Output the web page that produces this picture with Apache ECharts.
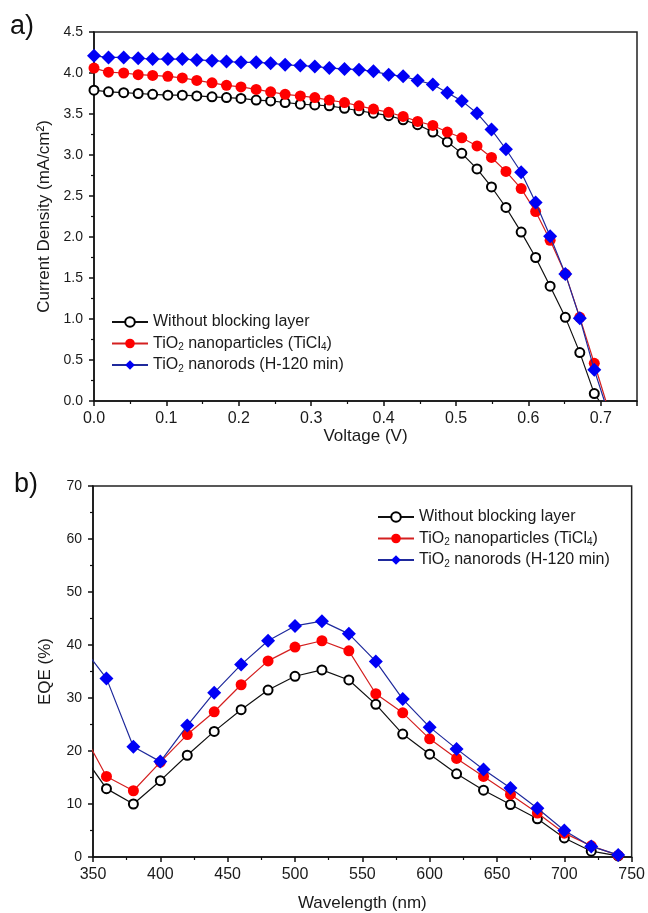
<!DOCTYPE html>
<html>
<head>
<meta charset="utf-8">
<script src="https://cdn.jsdelivr.net/npm/echarts@6/dist/echarts.min.js"></script>
<style>
  html, body { margin: 0; padding: 0; background: #fff; }
  #chart { width: 648px; height: 913px; }
</style>
</head>
<body>
<div id="chart"></div>
<script>
// series names (legend)
const seriesNames = [
  "Without blocking layer",
  "TiO2 nanoparticles (TiCl4)",
  "TiO2 nanorods (H-120 min)",
];

// a) J-V curves
const voltage = [
  0.0, 0.02, 0.041, 0.061, 0.081, 0.102, 0.122, 0.142, 0.163, 0.183,
  0.203, 0.224, 0.244, 0.264, 0.285, 0.305, 0.325, 0.346, 0.366, 0.386,
  0.407, 0.427, 0.447, 0.468, 0.488, 0.508, 0.529, 0.549, 0.569, 0.59,
  0.61, 0.63, 0.651, 0.671, 0.691,
];
const jWithout = [
  3.79, 3.77, 3.76, 3.75, 3.74, 3.73, 3.73, 3.72, 3.71, 3.70,
  3.69, 3.67, 3.66, 3.64, 3.62, 3.61, 3.60, 3.57, 3.54, 3.51,
  3.48, 3.43, 3.37, 3.28, 3.16, 3.02, 2.83, 2.61, 2.36, 2.06,
  1.75, 1.40, 1.02, 0.59, 0.09,
];
const jParticles = [
  4.06, 4.01, 4.00, 3.98, 3.97, 3.96, 3.94, 3.91, 3.88, 3.85,
  3.83, 3.80, 3.77, 3.74, 3.72, 3.70, 3.67, 3.64, 3.60, 3.56,
  3.52, 3.47, 3.41, 3.36, 3.28, 3.21, 3.11, 2.97, 2.80, 2.59,
  2.31, 1.96, 1.55, 1.02, 0.46,
];
const jRods = [
  4.21, 4.19, 4.19, 4.18, 4.17, 4.17, 4.17, 4.16, 4.15, 4.14,
  4.13, 4.13, 4.12, 4.10, 4.09, 4.08, 4.06, 4.05, 4.04, 4.02,
  3.98, 3.96, 3.91, 3.86, 3.76, 3.66, 3.51, 3.31, 3.07, 2.79,
  2.42, 2.01, 1.55, 1.01, 0.38,
];
const vocValues = [0.698, 0.707, 0.705]; // where the curves hit 0

// b) EQE spectra
const wavelength = [
  340, 360, 380, 400, 420, 440, 460, 480, 500, 520, 540,
  560, 580, 600, 620, 640, 660, 680, 700, 720, 740,
];
const eqeWithout = [
  20.1, 12.9, 10.0, 14.4, 19.2, 23.7, 27.8, 31.5, 34.1, 35.3, 33.4,
  28.8, 23.2, 19.4, 15.7, 12.6, 9.9, 7.2, 3.6, 1.1, 0.2,
];
const eqeParticles = [
  24.6, 15.2, 12.5, 17.9, 23.1, 27.4, 32.5, 37.0, 39.6, 40.8, 38.9,
  30.8, 27.2, 22.3, 18.6, 15.2, 11.8, 8.3, 4.5, 2.1, 0.3,
];
const eqeRods = [
  40.3, 33.7, 20.8, 18.0, 24.8, 31.0, 36.3, 40.8, 43.6, 44.5, 42.1,
  36.9, 29.8, 24.5, 20.4, 16.5, 13.0, 9.2, 5.0, 2.0, 0.4,
];

const FONT = "Liberation Sans, Arial, sans-serif";

const markerStyles = [
  { symbol: "circle", fill: "#ffffff", border: "#000000", line: "#111111", size: 9, bw: 2 },
  { symbol: "circle", fill: "#ff0000", border: "#ff0000", line: "#d42020", size: 11, bw: 0 },
  { symbol: "diamond", fill: "#0000f5", border: "#0000f5", line: "#1f2a9c", size: 14, bw: 0 },
];

let mychart = echarts.init(document.getElementById("chart"), null, { renderer: "canvas" });

const jvSets = [jWithout, jParticles, jRods];
const eqeSets = [eqeWithout, eqeParticles, eqeRods];

function makeSeries(idx, data, axis) {
  const st = markerStyles[idx];
  return {
    name: seriesNames[idx],
    type: "line",
    xAxisIndex: axis,
    yAxisIndex: axis,
    data: data,
    symbol: st.symbol,
    symbolSize: st.size,
    showAllSymbol: true,
    clip: true,
    animation: false,
    z: 2 + idx,
    lineStyle: { color: st.line, width: 1.2 },
    itemStyle: { color: st.fill, borderColor: st.border, borderWidth: st.bw },
  };
}

let series = [];
jvSets.forEach((arr, i) => {
  let d = voltage.map((v, k) => [v, arr[k]]);
  d.push({ value: [vocValues[i], 0], symbol: "none" });
  series.push(makeSeries(i, d, 0));
});
eqeSets.forEach((arr, i) => {
  let d = wavelength.map((w, k) => [w, arr[k]]);
  series.push(makeSeries(i, d, 1));
});

const axisCommon = {
  axisLine: { show: true, onZero: false, lineStyle: { color: "#111", width: 1.5 } },
  axisTick: { show: true, inside: false, length: 5, lineStyle: { color: "#111", width: 1.5 } },
  minorTick: { show: true, splitNumber: 2, length: 3, lineStyle: { color: "#111", width: 1.2 } },
  splitLine: { show: false },
  axisLabel: { color: "#1a1a1a", fontSize: 14, fontFamily: FONT, margin: 11 },
  nameTextStyle: { color: "#1a1a1a", fontSize: 17, fontFamily: FONT },
};

function legendFor(left, top) {
  return {
    data: seriesNames,
    orient: "vertical",
    left: left,
    top: top,
    padding: 0,
    itemWidth: 36,
    itemHeight: 12,
    itemGap: 3.5,
    formatter: (name) => name.replace("TiO2", "TiO{s|2}").replace("TiCl4", "TiCl{s|4}"),
    textStyle: {
      color: "#1a1a1a",
      fontSize: 16,
      lineHeight: 18,
      fontFamily: FONT,
      rich: { s: { fontSize: 10, lineHeight: 18, verticalAlign: "bottom", padding: [7, 0, 0, 0] } },
    },
  };
}

let option = {
  backgroundColor: "#fff",
  animation: false,
  graphic: [
    { type: "text", left: 10, top: 13, style: { text: "a)", fontSize: 27, fill: "#111", fontFamily: FONT } },
    { type: "text", left: 14, top: 471, style: { text: "b)", fontSize: 27, fill: "#111", fontFamily: FONT } },
  ],
  legend: [legendFor(111, 313), legendFor(377, 508)],
  grid: [
    { left: 94, right: 11, top: 32, height: 369, show: true, borderColor: "#222", borderWidth: 1.5, backgroundColor: "transparent" },
    { left: 93, right: 12, top: 486, height: 371, show: true, borderColor: "#222", borderWidth: 1.5, backgroundColor: "transparent" },
  ],
  xAxis: [
    Object.assign({}, axisCommon, {
      gridIndex: 0, type: "value", min: 0, max: 0.75, interval: 0.1,
      name: "Voltage (V)", nameLocation: "middle", nameGap: 27,
      axisLabel: Object.assign({}, axisCommon.axisLabel, { fontSize: 16, margin: 10, showMaxLabel: false, formatter: (v) => v.toFixed(1) }),
    }),
    Object.assign({}, axisCommon, {
      gridIndex: 1, type: "value", min: 350, max: 750, interval: 50,
      name: "Wavelength (nm)", nameLocation: "middle", nameGap: 38,
      axisLabel: Object.assign({}, axisCommon.axisLabel, { fontSize: 16, margin: 10 }),
    }),
  ],
  yAxis: [
    Object.assign({}, axisCommon, {
      gridIndex: 0, type: "value", min: 0, max: 4.5, interval: 0.5,
      name: "Current Density (mA/cm²)", nameLocation: "middle", nameGap: 40,
      axisLabel: Object.assign({}, axisCommon.axisLabel, { formatter: (v) => v.toFixed(1) }),
    }),
    Object.assign({}, axisCommon, {
      gridIndex: 1, type: "value", min: 0, max: 70, interval: 10,
      name: "EQE (%)", nameLocation: "middle", nameGap: 39,
    }),
  ],
  series: series,
};

mychart.setOption(option);
</script>
</body>
</html>
